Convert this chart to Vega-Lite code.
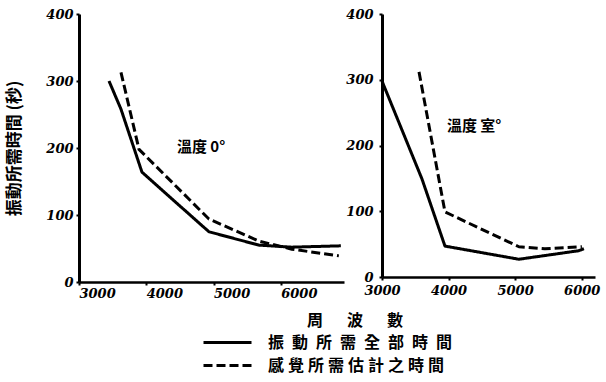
{
  "$schema": "https://vega.github.io/schema/vega-lite/v6.json",
  "background": "white",
  "padding": {"left": 5, "top": 8, "right": 5, "bottom": 5},
  "datasets": {
    "curves": [
      {"panel": "A", "series": "振動所需全部時間", "freq": 3446, "time": 300},
      {"panel": "A", "series": "振動所需全部時間", "freq": 3624, "time": 258},
      {"panel": "A", "series": "振動所需全部時間", "freq": 3936, "time": 164},
      {"panel": "A", "series": "振動所需全部時間", "freq": 4337, "time": 128},
      {"panel": "A", "series": "振動所需全部時間", "freq": 4932, "time": 75},
      {"panel": "A", "series": "振動所需全部時間", "freq": 5675, "time": 55},
      {"panel": "A", "series": "振動所需全部時間", "freq": 6165, "time": 52},
      {"panel": "A", "series": "振動所需全部時間", "freq": 6893, "time": 54},
      {"panel": "A", "series": "感覺所需估計之時間", "freq": 3624, "time": 313},
      {"panel": "A", "series": "感覺所需估計之時間", "freq": 3892, "time": 198},
      {"panel": "A", "series": "感覺所需估計之時間", "freq": 4932, "time": 94},
      {"panel": "A", "series": "感覺所需估計之時間", "freq": 5675, "time": 61},
      {"panel": "A", "series": "感覺所需估計之時間", "freq": 6165, "time": 49},
      {"panel": "A", "series": "感覺所需估計之時間", "freq": 6863, "time": 39},
      {"panel": "B", "series": "振動所需全部時間", "freq": 3000, "time": 298},
      {"panel": "B", "series": "振動所需全部時間", "freq": 3601, "time": 149},
      {"panel": "B", "series": "振動所需全部時間", "freq": 3946, "time": 47},
      {"panel": "B", "series": "振動所需全部時間", "freq": 5057, "time": 27},
      {"panel": "B", "series": "振動所需全部時間", "freq": 5958, "time": 40},
      {"panel": "B", "series": "振動所需全部時間", "freq": 6033, "time": 43},
      {"panel": "B", "series": "感覺所需估計之時間", "freq": 3556, "time": 312},
      {"panel": "B", "series": "感覺所需估計之時間", "freq": 3946, "time": 99},
      {"panel": "B", "series": "感覺所需估計之時間", "freq": 5057, "time": 46},
      {"panel": "B", "series": "感覺所需估計之時間", "freq": 5447, "time": 43},
      {"panel": "B", "series": "感覺所需估計之時間", "freq": 6003, "time": 46}
    ],
    "notes": [
      {"panel": "A", "label": "溫度 0°", "freq": 4456, "time": 201},
      {"panel": "B", "label": "溫度 室°", "freq": 3976, "time": 230}
    ]
  },
  "config": {
    "view": {"stroke": null},
    "concat": {"spacing": 1},
    "axis": {
      "domainColor": "black", "domainWidth": 3,
      "tickColor": "black", "tickWidth": 2, "tickSize": 3,
      "labelFont": "DejaVu Serif", "labelFontStyle": "italic", "labelFontWeight": "bold",
      "labelFontSize": 13, "labelColor": "black", "grid": false,
      "titleFont": "Noto Sans CJK TC", "titleFontWeight": "bold", "titleFontSize": 17, "titleColor": "black"
    },
    "legend": {
      "orient": "none", "legendX": 123, "legendY": 299, "direction": "vertical",
      "titleFont": "Noto Sans CJK TC", "titleFontWeight": "bold", "titleFontSize": 16, "titleColor": "black",
      "titleAnchor": "middle", "titlePadding": 0, "titleLimit": 400,
      "labelFont": "Noto Sans CJK TC", "labelFontWeight": "bold", "labelFontSize": 16, "labelColor": "black",
      "labelOffset": 39, "rowPadding": 1, "labelLimit": 400,
      "symbolType": "M-1,0H3", "symbolSize": 576, "symbolStrokeWidth": 3, "symbolStrokeColor": "black"
    }
  },
  "hconcat": [
    {
      "width": 265, "height": 268,
      "layer": [
        {
          "data": {"name": "curves"},
          "transform": [{"filter": "datum.panel == 'A'"}],
          "mark": {"type": "line", "strokeWidth": 3, "strokeJoin": "round"},
          "encoding": {
            "x": {"field": "freq", "type": "quantitative",
              "scale": {"domain": [3000, 6940], "nice": false, "zero": false},
              "axis": {"values": [3000, 4000, 5000, 6000], "format": "d", "title": null, "labelAlign": "left", "labelDx": -3, "labelPadding": 2, "labelFlush": false, "domainWidth": 2.5}},
            "y": {"field": "time", "type": "quantitative",
              "scale": {"domain": [0, 400], "nice": false},
              "axis": {"values": [0, 100, 200, 300, 400], "format": "d", "title": "振動所需時間 (秒)", "titlePadding": 22, "labelPadding": 3}},
            "color": {"field": "series", "type": "nominal",
              "scale": {"domain": ["振動所需全部時間", "感覺所需估計之時間"], "range": ["black", "black"]},
              "legend": {"title": "\u200b\u2003\u2003\u2003\u2002周\u2003\u2002波\u2003\u2002數",
                "labelExpr": "datum.label == '振動所需全部時間' ? '振\u2002動\u2002所\u2002需\u2002全\u2002部\u2002時\u2002間' : '感\u2005覺\u2005所\u2005需\u2005估\u2005計\u2005之\u2005時\u2005間'"}},
            "strokeDash": {"field": "series", "type": "nominal",
              "scale": {"domain": ["振動所需全部時間", "感覺所需估計之時間"], "range": [[1, 0], [9, 4]]},
              "legend": {"title": "\u200b\u2003\u2003\u2003\u2002周\u2003\u2002波\u2003\u2002數",
                "labelExpr": "datum.label == '振動所需全部時間' ? '振\u2002動\u2002所\u2002需\u2002全\u2002部\u2002時\u2002間' : '感\u2005覺\u2005所\u2005需\u2005估\u2005計\u2005之\u2005時\u2005間'"}}
          }
        },
        {
          "data": {"name": "notes"},
          "transform": [{"filter": "datum.panel == 'A'"}],
          "mark": {"type": "text", "align": "left", "baseline": "middle", "font": "Noto Sans CJK TC", "fontWeight": "bold", "fontSize": 15, "color": "black"},
          "encoding": {
            "x": {"field": "freq", "type": "quantitative"},
            "y": {"field": "time", "type": "quantitative"},
            "text": {"field": "label"}
          }
        }
      ]
    },
    {
      "width": 213, "height": 263,
      "layer": [
        {
          "data": {"name": "curves"},
          "transform": [{"filter": "datum.panel == 'B'"}],
          "mark": {"type": "line", "strokeWidth": 3, "strokeJoin": "round"},
          "encoding": {
            "x": {"field": "freq", "type": "quantitative",
              "scale": {"domain": [3000, 6200], "nice": false, "zero": false},
              "axis": {"values": [3000, 4000, 5000, 6000], "format": "d", "title": null, "labelAlign": "center", "labelPadding": 4, "labelFlush": true, "labelFlushOffset": 3, "domainWidth": 2.5}},
            "y": {"field": "time", "type": "quantitative",
              "scale": {"domain": [0, 400], "nice": false},
              "axis": {"values": [0, 100, 200, 300, 400], "format": "d", "title": null, "labelPadding": 6}},
            "color": {"field": "series", "type": "nominal",
              "scale": {"domain": ["振動所需全部時間", "感覺所需估計之時間"], "range": ["black", "black"]}},
            "strokeDash": {"field": "series", "type": "nominal",
              "scale": {"domain": ["振動所需全部時間", "感覺所需估計之時間"], "range": [[1, 0], [9, 4]]}}
          }
        },
        {
          "data": {"name": "notes"},
          "transform": [{"filter": "datum.panel == 'B'"}],
          "mark": {"type": "text", "align": "left", "baseline": "middle", "font": "Noto Sans CJK TC", "fontWeight": "bold", "fontSize": 15, "color": "black"},
          "encoding": {
            "x": {"field": "freq", "type": "quantitative"},
            "y": {"field": "time", "type": "quantitative"},
            "text": {"field": "label"}
          }
        }
      ]
    }
  ],
  "resolve": {"scale": {"color": "shared", "strokeDash": "shared"}}
}
